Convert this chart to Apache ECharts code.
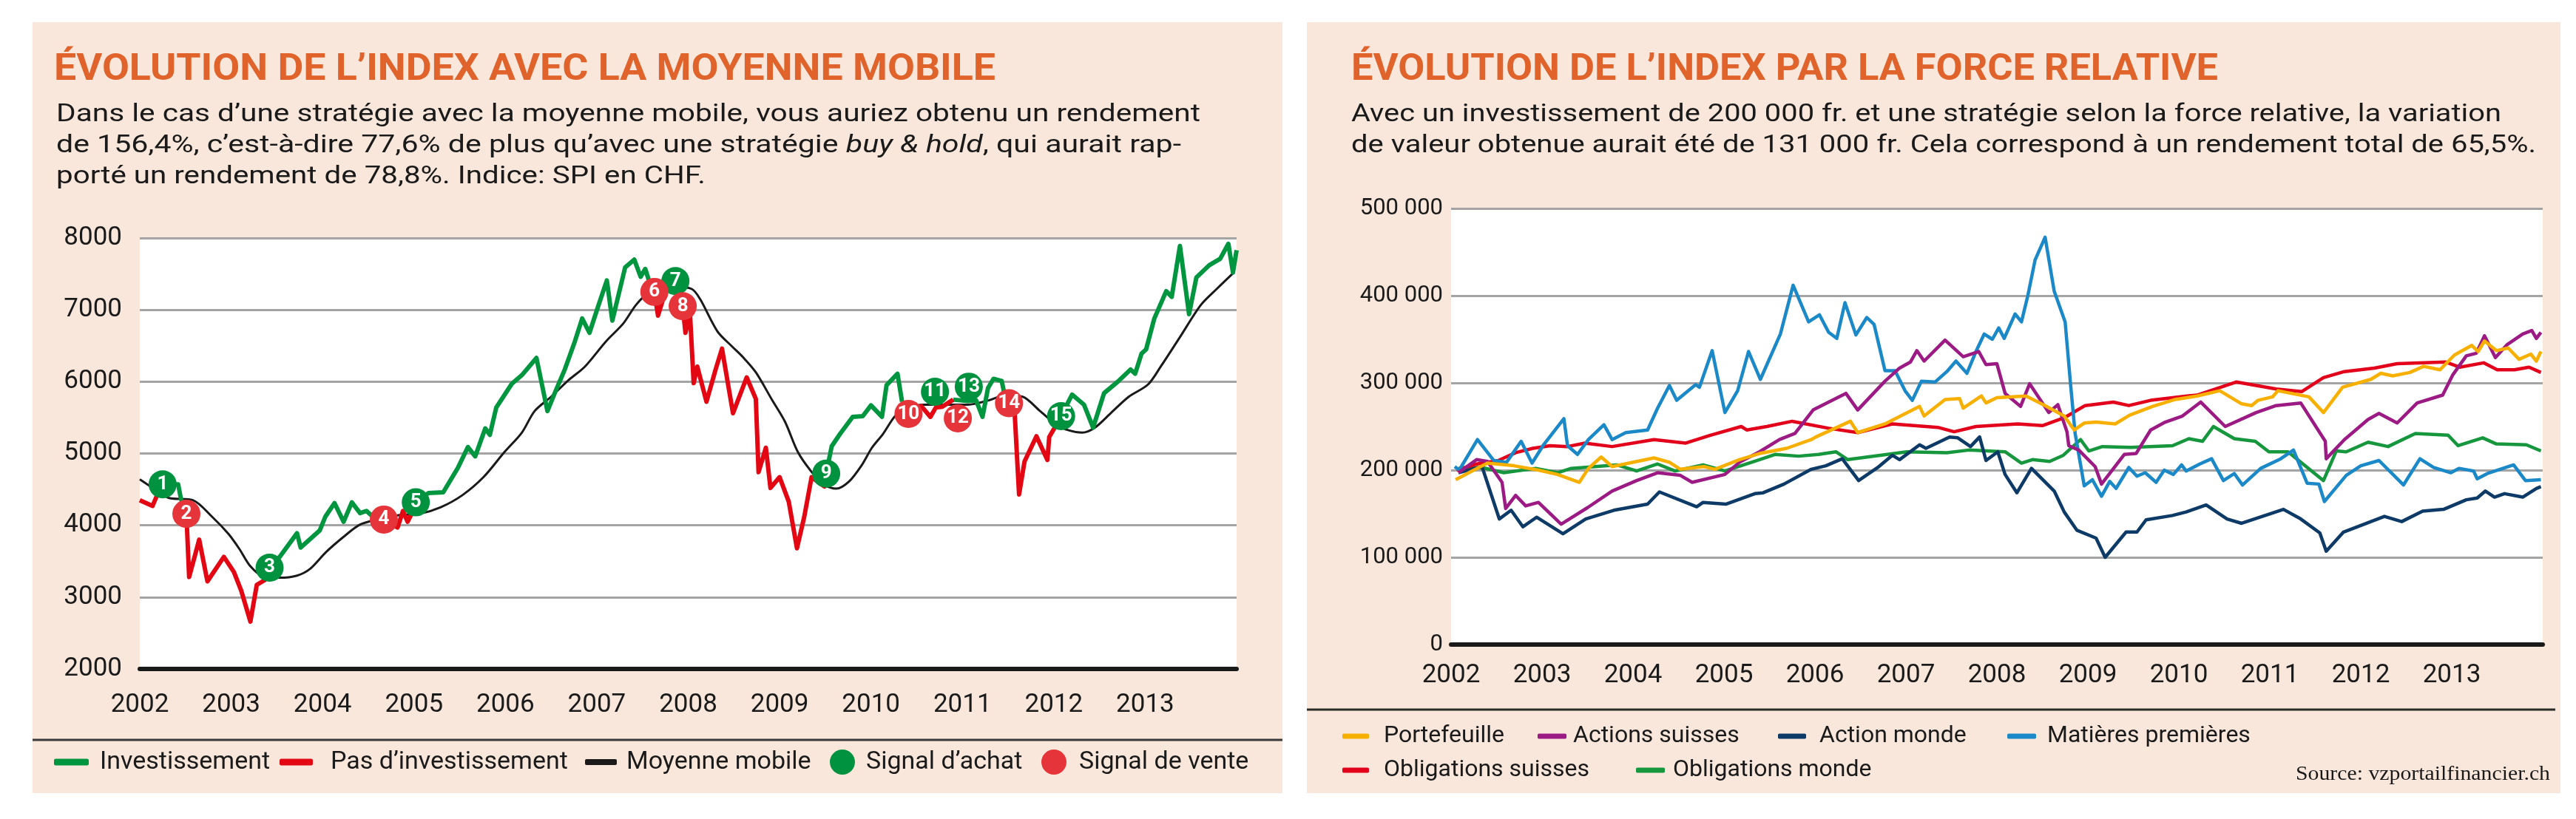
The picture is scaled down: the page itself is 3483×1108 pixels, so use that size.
<!DOCTYPE html>
<html>
<head>
<meta charset="utf-8">
<script src="https://cdn.jsdelivr.net/npm/echarts/dist/echarts.min.js"></script>
<style>
html, body { margin: 0; padding: 0; background: #fff; }
#chart { width: 3483px; height: 1108px; }
</style>
</head>
<body>
<div id="chart"></div>
<script>
// ---- left chart: SPI in CHF, moving average and signals ----
var years = [2002, 2003, 2004, 2005, 2006, 2007, 2008, 2009, 2010, 2011, 2012, 2013];

var spiIndex = [
  [2002.00, 4350], [2002.14, 4270], [2002.19, 4420], [2002.25, 4570], [2002.42, 4570], [2002.45, 4370],
  [2002.51, 4160], [2002.54, 3280], [2002.65, 3800], [2002.74, 3220], [2002.92, 3560], [2003.03, 3350],
  [2003.11, 3090], [2003.21, 2660], [2003.28, 3170], [2003.37, 3240], [2003.42, 3410], [2003.53, 3560],
  [2003.72, 3890], [2003.76, 3690], [2003.97, 3930], [2004.03, 4120], [2004.13, 4310], [2004.23, 4050],
  [2004.32, 4320], [2004.41, 4170], [2004.48, 4200], [2004.55, 4120], [2004.67, 4080], [2004.82, 3970],
  [2004.88, 4200], [2004.93, 4050], [2004.99, 4200], [2005.02, 4320], [2005.16, 4450], [2005.32, 4460],
  [2005.48, 4800], [2005.59, 5090], [2005.67, 4960], [2005.78, 5350], [2005.83, 5260], [2005.90, 5640],
  [2006.07, 5970], [2006.18, 6090], [2006.34, 6330], [2006.46, 5590], [2006.55, 5870], [2006.65, 6170],
  [2006.76, 6560], [2006.84, 6880], [2006.92, 6680], [2007.01, 7030], [2007.11, 7410], [2007.17, 6850],
  [2007.31, 7590], [2007.41, 7700], [2007.48, 7460], [2007.53, 7570], [2007.58, 7370], [2007.63, 7250],
  [2007.67, 6920], [2007.75, 7250], [2007.86, 7400], [2007.90, 7350], [2007.94, 7050], [2007.97, 6680],
  [2008.02, 6940], [2008.06, 5980], [2008.10, 6210], [2008.20, 5720], [2008.30, 6170], [2008.37, 6460],
  [2008.49, 5560], [2008.64, 6060], [2008.74, 5760], [2008.77, 4740], [2008.85, 5080], [2008.90, 4520],
  [2009.00, 4670], [2009.10, 4330], [2009.19, 3680], [2009.27, 4120], [2009.35, 4670], [2009.49, 4540],
  [2009.51, 4720], [2009.57, 5100], [2009.66, 5270], [2009.80, 5510], [2009.91, 5520], [2010.00, 5670],
  [2010.12, 5510], [2010.17, 5950], [2010.29, 6110], [2010.34, 5720], [2010.41, 5550], [2010.55, 5660],
  [2010.65, 5510], [2010.71, 5640], [2010.78, 5650], [2010.90, 5750], [2011.06, 5730], [2011.15, 5740],
  [2011.22, 5510], [2011.28, 5910], [2011.34, 6040], [2011.43, 6010], [2011.46, 5830], [2011.51, 5700],
  [2011.57, 5610], [2011.62, 4430], [2011.68, 4890], [2011.81, 5240], [2011.93, 4910], [2011.95, 5230],
  [2012.01, 5360], [2012.08, 5520], [2012.20, 5820], [2012.33, 5680], [2012.43, 5360], [2012.55, 5840],
  [2012.70, 6000], [2012.84, 6170], [2012.89, 6110], [2012.96, 6390], [2013.01, 6450], [2013.10, 6880],
  [2013.23, 7260], [2013.29, 7180], [2013.38, 7890], [2013.48, 6940], [2013.56, 7450], [2013.70, 7620],
  [2013.82, 7710], [2013.91, 7920], [2013.96, 7520], [2014.00, 7830]
];

var movingAverage = [
  [2002.00, 4640], [2002.19, 4480], [2002.32, 4380], [2002.58, 4350], [2002.79, 4120], [2002.97, 3880],
  [2003.09, 3670], [2003.21, 3430], [2003.35, 3290], [2003.53, 3270], [2003.72, 3300], [2003.86, 3390],
  [2004.04, 3630], [2004.23, 3840], [2004.41, 4010], [2004.60, 4080], [2004.83, 4140], [2005.06, 4160],
  [2005.29, 4250], [2005.53, 4420], [2005.76, 4670], [2005.99, 5020], [2006.18, 5290], [2006.32, 5590],
  [2006.50, 5790], [2006.69, 6020], [2006.87, 6210], [2007.10, 6560], [2007.29, 6810], [2007.43, 7070],
  [2007.57, 7240], [2007.69, 7300], [2007.85, 7320], [2008.04, 7290], [2008.13, 7150], [2008.32, 6700],
  [2008.48, 6490], [2008.60, 6340], [2008.74, 6130], [2008.92, 5740], [2009.06, 5440], [2009.20, 5020],
  [2009.34, 4760], [2009.48, 4570], [2009.62, 4510], [2009.76, 4610], [2009.90, 4840], [2010.01, 5080],
  [2010.13, 5270], [2010.27, 5530], [2010.41, 5640], [2010.59, 5680], [2010.82, 5680], [2011.06, 5680],
  [2011.29, 5740], [2011.47, 5810], [2011.66, 5790], [2011.85, 5590], [2012.03, 5400], [2012.17, 5320],
  [2012.31, 5290], [2012.45, 5360], [2012.63, 5570], [2012.82, 5790], [2013.03, 5960], [2013.17, 6210],
  [2013.38, 6620], [2013.61, 7070], [2013.79, 7300], [2013.97, 7520]
];

// [label time, label value, number, date of the switch on the index line]
var buySignals = [
  [2002.25, 4570, 1, 2002.25], [2003.42, 3410, 3, 2003.42], [2005.02, 4320, 5, 2005.02],
  [2007.86, 7400, 7, 2007.86], [2009.51, 4720, 9, 2009.51], [2010.70, 5860, 11, 2010.90],
  [2011.07, 5930, 13, 2011.06], [2012.08, 5520, 15, 2012.08]
];
var sellSignals = [
  [2002.51, 4160, 2, 2002.51], [2004.67, 4080, 4, 2004.67], [2007.63, 7250, 6, 2007.63],
  [2007.94, 7050, 8, 2007.94], [2010.41, 5550, 10, 2010.34], [2010.95, 5490, 12, 2010.90],
  [2011.51, 5700, 14, 2011.51]
];

// ---- right chart: relative strength, values in thousand francs ----
var portefeuille = [
  [2002.05, 189], [2002.23, 199], [2002.40, 208], [2002.69, 205], [2002.96, 200], [2003.17, 195], [2003.41, 186],
  [2003.51, 202], [2003.65, 215], [2003.77, 204], [2004.23, 214], [2004.40, 209], [2004.52, 201], [2004.78, 204],
  [2004.90, 201], [2005.17, 212], [2005.39, 219], [2005.69, 225], [2005.96, 235], [2006.01, 238], [2006.39, 256],
  [2006.47, 243], [2006.77, 253], [2007.15, 273], [2007.20, 262], [2007.43, 281], [2007.59, 282], [2007.63, 271],
  [2007.83, 285], [2007.88, 277], [2008.00, 283], [2008.32, 285], [2008.51, 275], [2008.74, 262], [2008.85, 246],
  [2008.96, 254], [2009.09, 255], [2009.30, 253], [2009.46, 263], [2009.71, 273], [2009.96, 281], [2010.20, 285],
  [2010.45, 291], [2010.69, 276], [2010.80, 274], [2010.87, 280], [2011.03, 284], [2011.09, 291], [2011.43, 284],
  [2011.59, 266], [2011.80, 295], [2012.11, 304], [2012.22, 311], [2012.35, 308], [2012.54, 312], [2012.69, 319],
  [2012.87, 315], [2013.03, 332], [2013.22, 343], [2013.29, 336], [2013.36, 348], [2013.49, 337], [2013.62, 340],
  [2013.74, 327], [2013.87, 333], [2013.93, 325], [2013.98, 336]
];
var actionsSuisses = [
  [2002.08, 197], [2002.28, 212], [2002.40, 210], [2002.56, 186], [2002.60, 156], [2002.71, 171], [2002.82, 159],
  [2002.96, 163], [2003.21, 138], [2003.50, 157], [2003.77, 176], [2004.04, 188], [2004.27, 197], [2004.52, 194],
  [2004.65, 186], [2005.01, 195], [2005.17, 209], [2005.39, 221], [2005.61, 235], [2005.78, 242], [2005.98, 269],
  [2006.34, 288], [2006.47, 269], [2006.77, 302], [2006.93, 317], [2007.05, 324], [2007.12, 337], [2007.20, 325],
  [2007.43, 349], [2007.63, 330], [2007.80, 336], [2007.88, 321], [2008.00, 322], [2008.09, 288], [2008.26, 273],
  [2008.36, 299], [2008.57, 266], [2008.67, 275], [2008.77, 244], [2008.79, 228], [2008.90, 223], [2009.08, 204],
  [2009.15, 184], [2009.40, 218], [2009.53, 219], [2009.69, 246], [2009.85, 255], [2010.04, 262], [2010.24, 278],
  [2010.51, 250], [2010.85, 266], [2011.07, 274], [2011.34, 277], [2011.61, 233], [2011.62, 213], [2011.82, 235],
  [2012.08, 258], [2012.20, 265], [2012.40, 254], [2012.62, 277], [2012.90, 286], [2013.01, 309], [2013.16, 331],
  [2013.27, 334], [2013.36, 354], [2013.48, 329], [2013.61, 344], [2013.78, 356], [2013.88, 360], [2013.93, 351],
  [2013.98, 358]
];
var actionMonde = [
  [2002.08, 197], [2002.34, 204], [2002.53, 144], [2002.66, 154], [2002.79, 135], [2002.94, 146], [2003.23, 127],
  [2003.48, 144], [2003.79, 154], [2004.16, 161], [2004.29, 175], [2004.70, 158], [2004.77, 163], [2005.02, 161],
  [2005.34, 173], [2005.43, 174], [2005.66, 184], [2005.96, 201], [2006.12, 205], [2006.30, 213], [2006.48, 188],
  [2006.69, 203], [2006.85, 217], [2006.93, 212], [2007.15, 229], [2007.22, 225], [2007.48, 238], [2007.57, 237],
  [2007.71, 227], [2007.81, 238], [2007.88, 211], [2008.01, 221], [2008.09, 195], [2008.22, 174], [2008.38, 202],
  [2008.63, 176], [2008.74, 152], [2008.88, 131], [2009.09, 122], [2009.19, 100], [2009.42, 129], [2009.54, 129],
  [2009.64, 143], [2009.93, 148], [2010.08, 152], [2010.30, 160], [2010.53, 144], [2010.69, 139], [2011.15, 155],
  [2011.34, 144], [2011.55, 128], [2011.62, 107], [2011.81, 129], [2012.26, 147], [2012.45, 141], [2012.68, 153],
  [2012.91, 155], [2013.16, 166], [2013.28, 168], [2013.37, 176], [2013.47, 169], [2013.58, 173], [2013.78, 169],
  [2013.93, 179], [2013.98, 181]
];
var matieresPremieres = [
  [2002.04, 204], [2002.09, 200], [2002.29, 235], [2002.47, 211], [2002.61, 209], [2002.77, 233], [2002.89, 208],
  [2003.01, 228], [2003.24, 259], [2003.28, 228], [2003.39, 218], [2003.51, 235], [2003.68, 252], [2003.77, 235],
  [2003.92, 243], [2004.16, 246], [2004.27, 271], [2004.40, 297], [2004.48, 280], [2004.69, 298], [2004.73, 295],
  [2004.87, 337], [2005.01, 266], [2005.15, 291], [2005.27, 336], [2005.40, 304], [2005.62, 356], [2005.76, 412],
  [2005.93, 370], [2006.05, 378], [2006.15, 358], [2006.24, 351], [2006.33, 392], [2006.45, 355], [2006.57, 375],
  [2006.65, 367], [2006.77, 314], [2006.88, 314], [2006.99, 291], [2007.07, 280], [2007.17, 302], [2007.32, 301],
  [2007.45, 313], [2007.55, 325], [2007.67, 311], [2007.77, 336], [2007.86, 356], [2007.95, 350], [2008.02, 363],
  [2008.08, 351], [2008.20, 379], [2008.27, 370], [2008.34, 400], [2008.42, 441], [2008.53, 467], [2008.63, 405],
  [2008.75, 370], [2008.81, 298], [2008.86, 242], [2008.96, 182], [2009.05, 189], [2009.15, 170], [2009.24, 187],
  [2009.31, 179], [2009.45, 203], [2009.54, 193], [2009.63, 197], [2009.75, 186], [2009.84, 200], [2009.94, 195],
  [2010.03, 206], [2010.08, 199], [2010.23, 207], [2010.36, 213], [2010.49, 188], [2010.61, 196], [2010.70, 183],
  [2010.90, 202], [2011.12, 213], [2011.26, 223], [2011.41, 185], [2011.54, 184], [2011.60, 164], [2011.84, 194],
  [2012.00, 205], [2012.20, 211], [2012.47, 183], [2012.65, 213], [2012.80, 203], [2012.99, 197], [2013.08, 202],
  [2013.24, 199], [2013.28, 190], [2013.39, 196], [2013.68, 206], [2013.81, 188], [2013.98, 189]
];
var obligationsSuisses = [
  [2002.06, 200], [2002.28, 207], [2002.52, 211], [2002.71, 220], [2002.90, 225], [2003.09, 228], [2003.28, 227],
  [2003.47, 231], [2003.77, 227], [2004.23, 235], [2004.58, 231], [2004.85, 240], [2005.19, 250], [2005.25, 246],
  [2005.47, 250], [2005.75, 256], [2006.15, 248], [2006.47, 243], [2006.85, 253], [2007.35, 249], [2007.53, 244],
  [2007.77, 250], [2008.23, 253], [2008.50, 251], [2008.74, 260], [2008.97, 274], [2009.28, 278], [2009.45, 274],
  [2009.69, 280], [2010.09, 285], [2010.20, 286], [2010.63, 301], [2011.07, 293], [2011.35, 290], [2011.59, 306],
  [2011.82, 313], [2012.15, 317], [2012.40, 322], [2012.93, 324], [2013.09, 318], [2013.35, 323], [2013.50, 315],
  [2013.69, 315], [2013.85, 318], [2013.98, 312]
];
var obligationsMonde = [
  [2002.08, 202], [2002.34, 203], [2002.58, 197], [2002.93, 202], [2003.17, 197], [2003.32, 202], [2003.82, 206],
  [2004.04, 199], [2004.27, 207], [2004.46, 199], [2004.77, 206], [2005.01, 199], [2005.36, 211], [2005.56, 218],
  [2005.82, 216], [2006.04, 218], [2006.23, 221], [2006.36, 212], [2007.01, 221], [2007.45, 220], [2007.69, 223],
  [2008.09, 221], [2008.27, 208], [2008.39, 212], [2008.58, 210], [2008.73, 217], [2008.92, 235], [2009.01, 222],
  [2009.16, 227], [2009.47, 226], [2009.93, 228], [2010.11, 236], [2010.26, 233], [2010.38, 250], [2010.61, 236],
  [2010.84, 233], [2010.99, 221], [2011.20, 221], [2011.59, 188], [2011.73, 222], [2011.84, 221], [2012.08, 232],
  [2012.30, 227], [2012.60, 242], [2012.96, 240], [2013.07, 228], [2013.34, 237], [2013.49, 230], [2013.82, 229],
  [2013.98, 222]
];

var PEACH = '#f9e7dc';
var INK = '#1a1a1a';
var ORANGE_TITLE = '#e0632b';
var SANS = 'Roboto';

// split the index line into invested / not invested runs at the switch dates
function splitBySignals(points, buys, sells) {
  var switches = buys.map(function (s) { return [s[3], true]; })
    .concat(sells.map(function (s) { return [s[3], false]; }))
    .sort(function (a, b) { return a[0] - b[0] || (a[1] ? 1 : -1); });

  function investedAt(t) {
    var st = false;
    switches.forEach(function (s) { if (s[0] <= t) st = s[1]; });
    return st;
  }
  function valueAt(t) {
    for (var i = 1; i < points.length; i++) {
      if (points[i][0] >= t) {
        var a = points[i - 1], b = points[i];
        return a[1] + (b[1] - a[1]) * (t - a[0]) / (b[0] - a[0]);
      }
    }
    return points[points.length - 1][1];
  }

  var merged = points.slice();
  switches.forEach(function (s) {
    var exists = merged.some(function (p) { return Math.abs(p[0] - s[0]) < 1e-6; });
    if (!exists) merged.push([s[0], valueAt(s[0])]);
  });
  merged.sort(function (a, b) { return a[0] - b[0]; });

  var on = [], off = [];
  for (var i = 0; i < merged.length - 1; i++) {
    var a = merged[i], b = merged[i + 1];
    var inv = investedAt((a[0] + b[0]) / 2);
    var yes = inv ? on : off, no = inv ? off : on;
    if (yes[yes.length - 1] !== a) {
      if (yes.length && yes[yes.length - 1][1] !== '-') yes.push([a[0], '-']);
      yes.push(a);
    }
    yes.push(b);
    if (no.length && no[no.length - 1][1] !== '-') no.push([(a[0] + b[0]) / 2, '-']);
  }
  return { invested: on, out: off };
}

var runs = splitBySignals(spiIndex, buySignals, sellSignals);

// squeeze a text line horizontally so that it spans the width seen in the reference
var measureCtx = document.createElement('canvas').getContext('2d');
function widthOf(parts) {
  var w = 0;
  parts.forEach(function (p) { measureCtx.font = p[1]; w += measureCtx.measureText(p[0]).width; });
  return w;
}

function textLine(x, baseline, parts, size, weight, color, target, family) {
  family = family || SANS;
  var fontN = weight + ' ' + size + 'px ' + family;
  var fontI = 'italic ' + weight + ' ' + size + 'px ' + family;
  var str = '', rich = {
    n: { fontSize: size, fontFamily: family, fontWeight: weight, fill: color },
    i: { fontSize: size, fontFamily: family, fontWeight: weight, fontStyle: 'italic', fill: color }
  };
  var measure = [];
  parts.forEach(function (p) {
    var italic = p.charAt(0) === '~';
    var t = italic ? p.slice(1) : p;
    str += '{' + (italic ? 'i' : 'n') + '|' + t + '}';
    measure.push([t, italic ? fontI : fontN]);
  });
  var sx = target ? target / widthOf(measure) : 1;
  return {
    type: 'text', x: x, y: baseline - size * 0.36, scaleX: sx, silent: true, z: 10,
    style: { text: str, rich: rich, x: 0, y: 0, align: 'left', verticalAlign: 'middle', fill: color }
  };
}

function legendItem(name, icon, left, centerY, w, h, size, gap) {
  return {
    data: [{ name: name, icon: icon }],
    left: left, top: centerY - size / 2 - 1, padding: 0,
    itemWidth: w, itemHeight: h, itemGap: 0, selectedMode: false,
    textStyle: { fontSize: size, fontFamily: SANS, color: INK, padding: [0, 0, 0, gap] }
  };
}

var graphics = [
  { type: 'rect', shape: { x: 44, y: 30, width: 1690, height: 1043 }, style: { fill: PEACH }, z: -10, silent: true },
  { type: 'rect', shape: { x: 1767, y: 30, width: 1695, height: 1043 }, style: { fill: PEACH }, z: -10, silent: true },
  { type: 'line', shape: { x1: 44, y1: 1001, x2: 1734, y2: 1001 }, style: { stroke: '#3a3a3a', lineWidth: 3 }, silent: true },
  { type: 'line', shape: { x1: 1767, y1: 960, x2: 3455, y2: 960 }, style: { stroke: '#2a2a2a', lineWidth: 3 }, silent: true },

  textLine(73, 113, ['ÉVOLUTION DE L’INDEX AVEC LA MOYENNE MOBILE'], 50, 'bold', ORANGE_TITLE, 1273),
  textLine(76, 168, ['Dans le cas d’une stratégie avec la moyenne mobile, vous auriez obtenu un rendement'], 34, 'normal', INK, 1547),
  textLine(76, 210, ['de 156,4%, c’est-à-dire 77,6% de plus qu’avec une stratégie ', '~buy & hold', ', qui aurait rap-'], 34, 'normal', INK, 1521),
  textLine(76, 252, ['porté un rendement de 78,8%. Indice: SPI en CHF.'], 34, 'normal', INK, 878),

  textLine(1827, 113, ['ÉVOLUTION DE L’INDEX PAR LA FORCE RELATIVE'], 50, 'bold', ORANGE_TITLE, 1172),
  textLine(1827, 168, ['Avec un investissement de 200 000 fr. et une stratégie selon la force relative, la variation'], 34, 'normal', INK, 1555),
  textLine(1827, 210, ['de valeur obtenue aurait été de 131 000 fr. Cela correspond à un rendement total de 65,5%.'], 34, 'normal', INK, 1602)
];

var source = textLine(3104, 1058, ['Source: vzportailfinancier.ch'], 27, 'normal', INK, 344, 'Liberation Serif');
graphics.push(source);

function rightLine(name, data, color) {
  return {
    name: name, type: 'line', xAxisIndex: 1, yAxisIndex: 1, data: data,
    showSymbol: false, color: color, itemStyle: { color: color },
    lineStyle: { color: color, width: 4.5, join: 'round' }, z: 3
  };
}

var signalLabel = {
  show: true, position: 'inside', color: '#fff', fontWeight: 'bold', fontSize: 26, fontFamily: SANS,
  formatter: function (p) { return p.value[2]; }
};

var option = {
  animation: false,
  backgroundColor: '#fff',
  graphic: graphics,
  grid: [
    { left: 189, top: 322, width: 1483, height: 583, show: true, backgroundColor: '#fff', borderWidth: 0 },
    { left: 1962, top: 282, width: 1476, height: 590, show: true, backgroundColor: '#fff', borderWidth: 0 }
  ],
  xAxis: [0, 1].map(function (g) {
    return {
      type: 'value', gridIndex: g, min: years[0], max: years[years.length - 1] + 1, interval: 1,
      axisLine: { lineStyle: { color: INK, width: 6 } },
      axisTick: { show: false }, splitLine: { show: false },
      axisLabel: {
        fontSize: 35, fontFamily: SANS, color: INK, margin: g === 0 ? 32 : 25, showMaxLabel: false,
        formatter: function (v) { return years.indexOf(v) >= 0 ? String(v) : ''; }
      }
    };
  }),
  yAxis: [
    {
      type: 'value', gridIndex: 0, min: 2000, max: 8000, interval: 1000,
      axisLine: { show: false }, axisTick: { show: false },
      splitLine: { lineStyle: { color: '#a4a4a4', width: 3 } },
      axisLabel: {
        fontSize: 35, fontFamily: SANS, color: INK, margin: 24,
        formatter: function (v) { return String(v); }
      }
    },
    {
      type: 'value', gridIndex: 1, min: 0, max: 500, interval: 100,
      axisLine: { show: false }, axisTick: { show: false },
      splitLine: { lineStyle: { color: '#a4a4a4', width: 3 } },
      axisLabel: {
        fontSize: 31, fontFamily: SANS, color: INK, margin: 11,
        formatter: function (v) { return v === 0 ? '0' : v + ' 000'; }
      }
    }
  ],
  legend: [
    legendItem('Investissement', 'roundRect', 73, 1032, 47, 9, 34, 10),
    legendItem('Pas d’investissement', 'roundRect', 378, 1032, 45, 9, 34, 19),
    legendItem('Moyenne mobile', 'roundRect', 791, 1032, 43, 8, 34, 8),
    legendItem('Signal d’achat', 'circle', 1122, 1032, 34, 36, 34, 10),
    legendItem('Signal de vente', 'circle', 1408, 1032, 34, 36, 34, 12),

    legendItem('Portefeuille', 'roundRect', 1815, 997, 36, 7, 32, 15),
    legendItem('Actions suisses', 'roundRect', 2079, 997, 39, 7, 32, 4),
    legendItem('Action monde', 'roundRect', 2404, 997, 38, 7, 32, 13),
    legendItem('Matières premières', 'roundRect', 2714, 997, 39, 7, 32, 10),
    legendItem('Obligations suisses', 'roundRect', 1815, 1043, 36, 7, 32, 15),
    legendItem('Obligations monde', 'roundRect', 2212, 1043, 39, 7, 32, 6)
  ],
  series: [
    {
      name: 'Moyenne mobile', type: 'line', data: movingAverage, smooth: 0.3, showSymbol: false,
      color: INK, itemStyle: { color: INK }, lineStyle: { color: INK, width: 3 }, z: 2
    },
    {
      name: 'Investissement', type: 'line', data: runs.invested, showSymbol: false, connectNulls: false,
      color: '#00953f', itemStyle: { color: '#00953f' }, lineStyle: { color: '#00953f', width: 6, join: 'round' }, z: 3
    },
    {
      name: 'Pas d’investissement', type: 'line', data: runs.out, showSymbol: false, connectNulls: false,
      color: '#e30613', itemStyle: { color: '#e30613' }, lineStyle: { color: '#e30613', width: 6, join: 'round' }, z: 3
    },
    {
      name: 'Signal d’achat', type: 'scatter', data: buySignals, symbolSize: 38,
      itemStyle: { color: '#00923f', opacity: 1 }, label: signalLabel, z: 6
    },
    {
      name: 'Signal de vente', type: 'scatter', data: sellSignals, symbolSize: 38,
      itemStyle: { color: '#e5353b', opacity: 1 }, label: signalLabel, z: 6
    },
    rightLine('Obligations monde', obligationsMonde, '#16963d'),
    rightLine('Obligations suisses', obligationsSuisses, '#e2001a'),
    rightLine('Action monde', actionMonde, '#0d3a66'),
    rightLine('Matières premières', matieresPremieres, '#1b88c7'),
    rightLine('Actions suisses', actionsSuisses, '#9c1a83'),
    rightLine('Portefeuille', portefeuille, '#f8b000')
  ]
};

var chart = echarts.init(document.getElementById('chart'), null, { renderer: 'canvas' });
chart.setOption(option);
</script>
</body>
</html>
